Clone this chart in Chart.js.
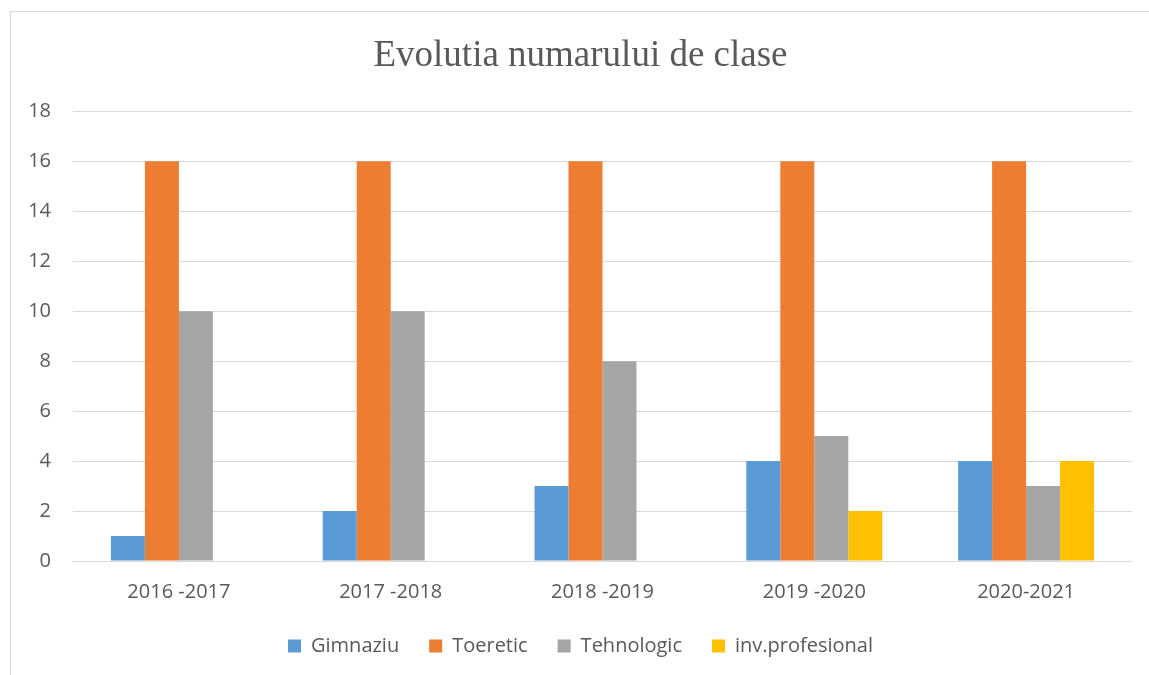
<!DOCTYPE html>
<html><head><meta charset="utf-8">
<script src="https://cdn.jsdelivr.net/npm/chart.js@4/dist/chart.umd.min.js"></script>
<style>
html,body{margin:0;padding:0;background:#fff;overflow:hidden;width:1149px;height:675px;}
#frame{position:absolute;left:10px;top:11px;width:1150px;height:667px;border:1px solid #d9d9d9;background:#fff;}
#c{position:absolute;left:0;top:0;}
</style></head><body>
<div id="frame"><canvas id="c" width="1150" height="667"></canvas></div>
<script>
const categories = ["2016 -2017", "2017 -2018", "2018 -2019", "2019 -2020", "2020-2021"];
const gimnaziu = [1, 2, 3, 4, 4];
const toeretic = [16, 16, 16, 16, 16];
const tehnologic = [10, 10, 8, 5, 3];
const invProfesional = [null, null, null, 2, 4];
const seriesNames = ["Gimnaziu", "Toeretic", "Tehnologic", "inv.profesional"];
const titleText = "Evolutia numarului de clase";

const colors = ["#5B9BD5", "#ED7D31", "#A5A5A5", "#FFC000"];
const series = [gimnaziu, toeretic, tehnologic, invProfesional];
const textColor = "#595959";

new Chart(document.getElementById("c"), {
  type: "bar",
  data: {
    labels: categories,
    datasets: series.map((d, i) => ({
      label: seriesNames[i],
      data: d,
      backgroundColor: colors[i],
      borderWidth: 0,
      categoryPercentage: 0.642,
      barPercentage: 1.0
    }))
  },
  options: {
    responsive: false,
    animation: false,
    layout: { padding: { left: 18, right: 29, top: 0, bottom: 13 } },
    plugins: {
      title: {
        display: true,
        text: titleText,
        color: textColor,
        font: { family: "'Liberation Serif', 'Times New Roman', serif", size: 37, weight: "normal" },
        padding: { top: 22, bottom: 33 }
      },
      legend: {
        position: "bottom",
        labels: {
          color: textColor,
          font: { family: "'Open Sans', sans-serif", size: 20 },
          boxWidth: 13,
          boxHeight: 13,
          padding: 30
        }
      },
      tooltip: { enabled: false }
    },
    scales: {
      x: {
        grid: { display: false, drawTicks: false },
        border: { display: false },
        ticks: { color: textColor, font: { family: "'Open Sans', sans-serif", size: 20 }, padding: 19, maxRotation: 0 },
        afterFit: (s) => { s.height = 45; }
      },
      y: {
        min: 0, max: 18,
        grid: { color: "#d9d9d9", lineWidth: 1, drawTicks: false },
        border: { display: false },
        ticks: { stepSize: 2, color: textColor, font: { family: "'Open Sans', sans-serif", size: 20 }, padding: 22 },
        afterFit: (s) => { s.width = 44; }
      }
    }
  }
});
</script>
</body></html>
